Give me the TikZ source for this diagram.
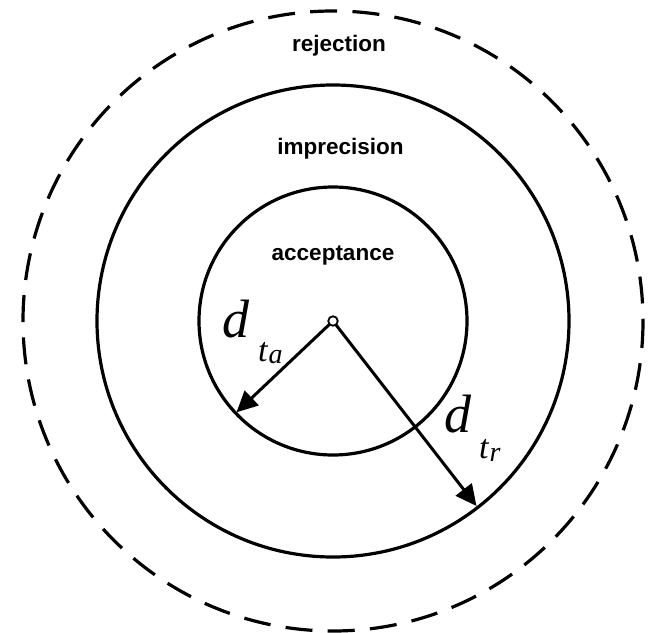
\documentclass[tikz,border=0pt]{standalone}
\usepackage{fontspec}
\setmainfont{Liberation Sans}
\newfontfamily\lserif{Liberation Serif}
\usetikzlibrary{arrows.meta}
\tikzset{
  ring/.style={draw=black,line width=3.2pt},
  dashring/.style={draw=black,line width=3.2pt,dash pattern=on 27pt off 15.3pt},
  region/.style={font=\fontsize{22.5}{24}\selectfont\bfseries,inner sep=0pt,anchor=base},
  radarrow/.style={draw=black,line width=3pt,-{Triangle[length=21pt,width=20pt]}},
  dlabel/.style={inner sep=0pt,anchor=base west,font=\lserif\itshape},
  centre/.style={circle,draw=black,fill=white,line width=1.8pt,inner sep=0pt,minimum size=9.5pt}
}
\begin{document}
\begin{tikzpicture}[x=1pt,y=-1pt]
\useasboundingbox (0,0) rectangle (648,632);
\coordinate (c) at (333,321);
\draw[dashring] (c) circle[radius=310];
\draw[ring] (c) circle[radius=236];
\draw[ring] (c) circle[radius=134];
\node[region] (rej) at (339,51) {rejection};
\node[region] (imp) at (340.5,154) {imprecision};
\node[region] (acc) at (333,260) {acceptance};
\coordinate (ta) at (236.5,412.3);
\coordinate (tr) at (476.5,506.0);
\draw[radarrow] (c) -- (ta);
\draw[radarrow] (c) -- (tr);
\node[centre] (cdot) at (c) {};
\node[dlabel] (lta) at (222,337) {\fontsize{54}{54}\selectfont d\kern9pt\raisebox{-24pt}{\fontsize{34}{34}\selectfont t}\kern1pt\raisebox{-26pt}{\fontsize{28}{28}\selectfont a}};
\node[dlabel] (ltr) at (444,432) {\fontsize{54}{54}\selectfont d\kern8pt\raisebox{-26pt}{\fontsize{34}{34}\selectfont t}\kern1pt\raisebox{-29pt}{\fontsize{28}{28}\selectfont r}};
\end{tikzpicture}
\end{document}
